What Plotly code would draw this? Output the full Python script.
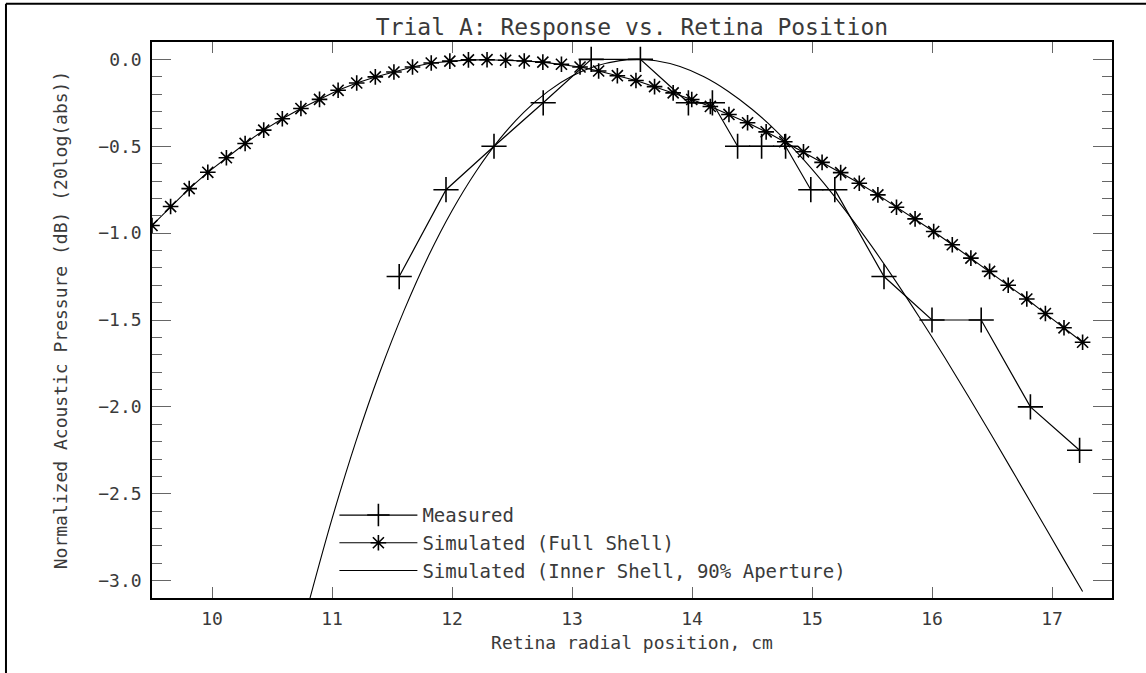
import plotly.graph_objects as go

# Measured response (cm, dB)
meas_x = [11.56, 11.95, 12.35, 12.76, 13.16, 13.57, 13.97, 14.17, 14.38,
          14.58, 14.78, 14.99, 15.19, 15.60, 16.00, 16.41, 16.82, 17.23]
meas_y = [-1.25, -0.75, -0.50, -0.25, 0.00, 0.00, -0.25, -0.25, -0.50,
          -0.50, -0.50, -0.75, -0.75, -1.25, -1.50, -1.50, -2.00, -2.25]

# Simulated response, full shell
full_x = [9.500, 9.655, 9.810, 9.965, 10.120, 10.276, 10.431, 10.586, 10.741,
          10.896, 11.051, 11.206, 11.361, 11.516, 11.671, 11.827, 11.982,
          12.137, 12.292, 12.447, 12.602, 12.757, 12.912, 13.067, 13.222,
          13.378, 13.533, 13.688, 13.843, 13.998, 14.153, 14.308, 14.463,
          14.618, 14.773, 14.929, 15.084, 15.239, 15.394, 15.549, 15.704,
          15.859, 16.014, 16.169, 16.324, 16.480, 16.635, 16.790, 16.945,
          17.100, 17.255]
full_y = [-0.956, -0.847, -0.744, -0.650, -0.566, -0.484, -0.407, -0.342,
          -0.283, -0.230, -0.178, -0.136, -0.101, -0.073, -0.044, -0.021,
          -0.010, -0.003, -0.002, -0.005, -0.009, -0.016, -0.028, -0.044,
          -0.067, -0.094, -0.122, -0.157, -0.193, -0.231, -0.271, -0.317,
          -0.365, -0.417, -0.474, -0.532, -0.593, -0.652, -0.713, -0.780,
          -0.851, -0.918, -0.991, -1.067, -1.144, -1.220, -1.300, -1.379,
          -1.463, -1.545, -1.628]

# Simulated response, inner shell with 90% aperture
inner_x = [10.79, 11.0, 11.2, 11.4, 11.6, 11.8, 12.0, 12.2, 12.4, 12.6, 12.8,
           13.0, 13.2, 13.4, 13.55, 13.7, 13.9, 14.1, 14.3, 14.5, 14.7, 14.9,
           15.1, 15.3, 15.5, 15.7, 15.9, 16.1, 16.3, 16.5, 16.7, 16.9, 17.1,
           17.255]
inner_y = [-3.169, -2.645, -2.197, -1.798, -1.446, -1.137, -0.871, -0.645,
           -0.456, -0.303, -0.184, -0.096, -0.038, -0.007, 0.0, -0.008,
           -0.041, -0.100, -0.183, -0.287, -0.411, -0.554, -0.714, -0.889,
           -1.078, -1.279, -1.490, -1.709, -1.936, -2.168, -2.404, -2.641,
           -2.879, -3.063]

x_ticks = [10, 11, 12, 13, 14, 15, 16, 17]

FONT = "DejaVu Sans Mono"
TEXT = "#3a3a3a"
TICK = "#666666"

fig = go.Figure()

fig.add_trace(go.Scatter(
    x=meas_x, y=meas_y, mode="lines+markers", name="Measured",
    line=dict(color="black", width=1.2),
    marker=dict(symbol="cross-thin-open", size=18,
                line=dict(color="black", width=1.6)),
))
fig.add_trace(go.Scatter(
    x=full_x, y=full_y, mode="lines+markers", name="Simulated (Full Shell)",
    line=dict(color="black", width=1.1),
    marker=dict(symbol="asterisk-open", size=13,
                line=dict(color="black", width=1.6)),
))
fig.add_trace(go.Scatter(
    x=inner_x, y=inner_y, mode="lines", line_shape="spline",
    name="Simulated (Inner Shell, 90% Aperture)",
    line=dict(color="black", width=1.1),
))

fig.update_layout(
    width=1146, height=673,
    margin=dict(l=152, r=34, t=42, b=75),
    paper_bgcolor="white", plot_bgcolor="white",
    font=dict(family=FONT, color=TEXT, size=18),
    title=dict(text="Trial A: Response vs. Retina Position",
               font=dict(family=FONT, size=23, color=TEXT),
               x=0.5, xref="paper", xanchor="center",
               y=1 - 27 / 673, yref="container", yanchor="middle"),
    showlegend=True,
    legend=dict(x=0.1900, y=0.1831, xanchor="left", yanchor="top",
                bgcolor="rgba(0,0,0,0)", borderwidth=0, itemwidth=78,
                font=dict(family=FONT, size=19, color=TEXT),
                traceorder="normal"),
    xaxis=dict(range=[9.5, 17.5], tickvals=x_ticks,
               ticks="inside", ticklen=11, tickwidth=1, tickcolor=TICK,
               showline=True, linecolor="black", linewidth=1.5,
               mirror="ticks", showgrid=False, zeroline=False,
               ticklabelstandoff=4,
               tickfont=dict(family=FONT, size=18, color=TEXT),
               title=dict(text="Retina radial position, cm", standoff=8,
                          font=dict(family=FONT, size=18, color=TEXT))),
    yaxis=dict(range=[-3.1, 0.1], tick0=0, dtick=0.5, tickformat=".1f",
               ticks="inside", ticklen=19, tickwidth=1, tickcolor=TICK,
               minor=dict(dtick=0.1, ticks="inside", ticklen=10,
                          tickwidth=1, tickcolor=TICK),
               showline=True, linecolor="black", linewidth=1.5,
               mirror="ticks", showgrid=False, zeroline=False,
               ticklabelstandoff=5,
               tickfont=dict(family=FONT, size=18, color=TEXT),
               title=dict(text="Normalized Acoustic Pressure (dB) (20log(abs))",
                          standoff=26,
                          font=dict(family=FONT, size=18, color=TEXT))),
    shapes=[
        dict(type="line", xref="paper", yref="paper",
             x0=-0.1521, x1=-0.1521, y0=-0.2, y1=1.0689,
             line=dict(color="black", width=2)),
        dict(type="line", xref="paper", yref="paper",
             x0=-0.1521, x1=1.06, y0=1.0689, y1=1.0689,
             line=dict(color="black", width=2)),
    ],
)

fig.write_html("out.html")
